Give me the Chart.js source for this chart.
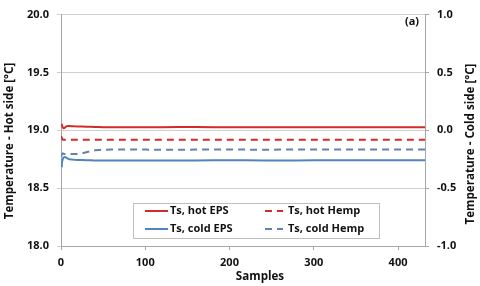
<!DOCTYPE html>
<html>
<head>
<meta charset="utf-8">
<script src="https://cdn.jsdelivr.net/npm/chart.js@4"></script>
<style>
html,body{margin:0;padding:0;background:#fff;}
#wrap{width:480px;height:286px;position:relative;}
</style>
</head>
<body>
<div id="wrap"><canvas id="c" width="480" height="286"></canvas></div>
<script>
const samples = [0,1,2,3,4,6,8,10,13,16,20,25,30,35,40,45,50,60,70,80,100,120,140,160,180,200,220,240,260,280,300,320,340,360,380,400,420,432];
const hotEPS  = [19.055,19.045,19.025,19.018,19.02,19.032,19.038,19.038,19.036,19.034,19.033,19.032,19.031,19.03,19.029,19.028,19.027,19.026,19.026,19.026,19.027,19.027,19.028,19.028,19.027,19.027,19.027,19.027,19.027,19.027,19.027,19.027,19.026,19.026,19.026,19.026,19.026,19.026];
const hotHemp = [18.95,18.935,18.92,18.918,18.918,18.918,18.918,18.918,18.918,18.918,18.918,18.918,18.918,18.918,18.918,18.918,18.918,18.918,18.918,18.918,18.918,18.918,18.918,18.918,18.918,18.918,18.918,18.918,18.918,18.918,18.918,18.918,18.918,18.918,18.918,18.918,18.918,18.918];
const coldEPS = [-0.31,-0.28,-0.25,-0.235,-0.232,-0.235,-0.245,-0.25,-0.253,-0.255,-0.256,-0.257,-0.258,-0.259,-0.26,-0.26,-0.261,-0.262,-0.262,-0.262,-0.261,-0.261,-0.26,-0.26,-0.259,-0.258,-0.259,-0.26,-0.262,-0.261,-0.259,-0.258,-0.258,-0.258,-0.258,-0.258,-0.258,-0.258];
const coldHemp = [-0.23,-0.205,-0.2,-0.203,-0.205,-0.205,-0.205,-0.205,-0.205,-0.205,-0.205,-0.2,-0.19,-0.18,-0.173,-0.17,-0.168,-0.167,-0.166,-0.167,-0.167,-0.168,-0.169,-0.167,-0.166,-0.166,-0.167,-0.168,-0.167,-0.166,-0.166,-0.165,-0.165,-0.166,-0.165,-0.165,-0.165,-0.165];
const xTicks = [0,100,200,300,400];
const leftTicks = [18.0,18.5,19.0,19.5,20.0];
const rightTicks = [-1.0,-0.5,0.0,0.5,1.0];
const labels = ['Ts, hot EPS','Ts, hot Hemp','Ts, cold EPS','Ts, cold Hemp'];

const RED = '#d42a2a', BLUE = '#4f84c0', BLUE2 = '#6283ad';
const FONT = "'Open Sans', 'Liberation Sans', sans-serif";
Chart.defaults.font.family = FONT;
Chart.defaults.color = '#111';

function pts(arr){ return samples.map((s,i)=>({x:s,y:arr[i]})); }

const overlay = {
  id:'overlay',
  afterDraw(chart){
    const ctx = chart.ctx;
    ctx.save();
    ctx.fillStyle = '#111';
    ctx.font = "bold 11.6px " + FONT;
    ctx.textAlign = 'center';
    ctx.textBaseline = 'middle';
    // axis titles
    ctx.save(); ctx.translate(10,141); ctx.rotate(-Math.PI/2);
    ctx.fillText('Temperature - Hot side [°C]',0,0); ctx.restore();
    ctx.save(); ctx.translate(471,144); ctx.rotate(-Math.PI/2);
    ctx.fillText('Temperature - Cold side [°C]',0,0); ctx.restore();
    ctx.fillText('Samples',260,277);
    ctx.font = "bold 11px " + FONT;
    ctx.fillText('(a)',412,22);
    // legend
    const bx=133, by=203, bw=246, bh=35;
    ctx.fillStyle='#fff'; ctx.fillRect(bx,by,bw,bh);
    ctx.strokeStyle='#bfbfbf'; ctx.lineWidth=1; ctx.strokeRect(bx+0.5,by+0.5,bw,bh);
    const cols=[145,264], rows=[211,229];
    chart.data.datasets.forEach((ds,i)=>{
      const c = cols[i%2], r = rows[Math.floor(i/2)];
      ctx.strokeStyle = ds.borderColor; ctx.lineWidth = 2;
      ctx.setLineDash(ds.borderDash||[]);
      ctx.beginPath();
      if (ds.borderDash && ds.borderDash.length){ ctx.moveTo(c+1,r); ctx.lineTo(c+19,r); }
      else { ctx.moveTo(c,r); ctx.lineTo(c+23,r); }
      ctx.stroke(); ctx.setLineDash([]);
      ctx.fillStyle='#111'; ctx.textAlign='left';
      ctx.fillText(ds.label, (ds.borderDash&&ds.borderDash.length)? c+24 : c+25, r);
    });
    ctx.restore();
  }
};

const gridColor = '#d0d0d0', axisColor = '#a6a6a6';
const tickFont = {size:11, weight:'bold'};

new Chart(document.getElementById('c'), {
  type:'line',
  data:{ datasets:[
    {label:labels[0], data:pts(hotEPS), borderColor:RED, borderWidth:2, yAxisID:'y'},
    {label:labels[1], data:pts(hotHemp), borderColor:RED, borderWidth:2, borderDash:[7,5], yAxisID:'y'},
    {label:labels[2], data:pts(coldEPS), borderColor:BLUE, borderWidth:2, yAxisID:'y1'},
    {label:labels[3], data:pts(coldHemp), borderColor:BLUE2, borderWidth:2, borderDash:[7,5], yAxisID:'y1'}
  ]},
  options:{
    responsive:false, animation:false,
    layout:{padding:{top:9,left:0,right:0,bottom:0}},
    elements:{point:{radius:0}, line:{tension:0}},
    plugins:{legend:{display:false}, tooltip:{enabled:false}},
    scales:{
      x:{type:'linear', min:0, max:432,
        afterBuildTicks(s){ s.ticks = xTicks.map(v=>({value:v})); },
        afterFit(s){ s.height = 40; },
        ticks:{font:tickFont, padding:6, maxRotation:0},
        grid:{drawOnChartArea:false, tickLength:4, color:axisColor},
        border:{color:axisColor}},
      y:{position:'left', min:18, max:20,
        afterBuildTicks(s){ s.ticks = leftTicks.map(v=>({value:v})); },
        afterFit(s){ s.width = 61; },
        ticks:{font:tickFont, padding:8, callback:v=>Number(v).toFixed(1)},
        grid:{color:gridColor, tickLength:4},
        border:{color:axisColor}},
      y1:{position:'right', min:-1, max:1,
        afterBuildTicks(s){ s.ticks = rightTicks.map(v=>({value:v})); },
        afterFit(s){ s.width = 55; },
        ticks:{font:tickFont, padding:8, callback:v=>Number(v).toFixed(1)},
        grid:{drawOnChartArea:false, tickLength:4, color:axisColor},
        border:{color:axisColor}}
    }
  },
  plugins:[overlay]
});
</script>
</body>
</html>
